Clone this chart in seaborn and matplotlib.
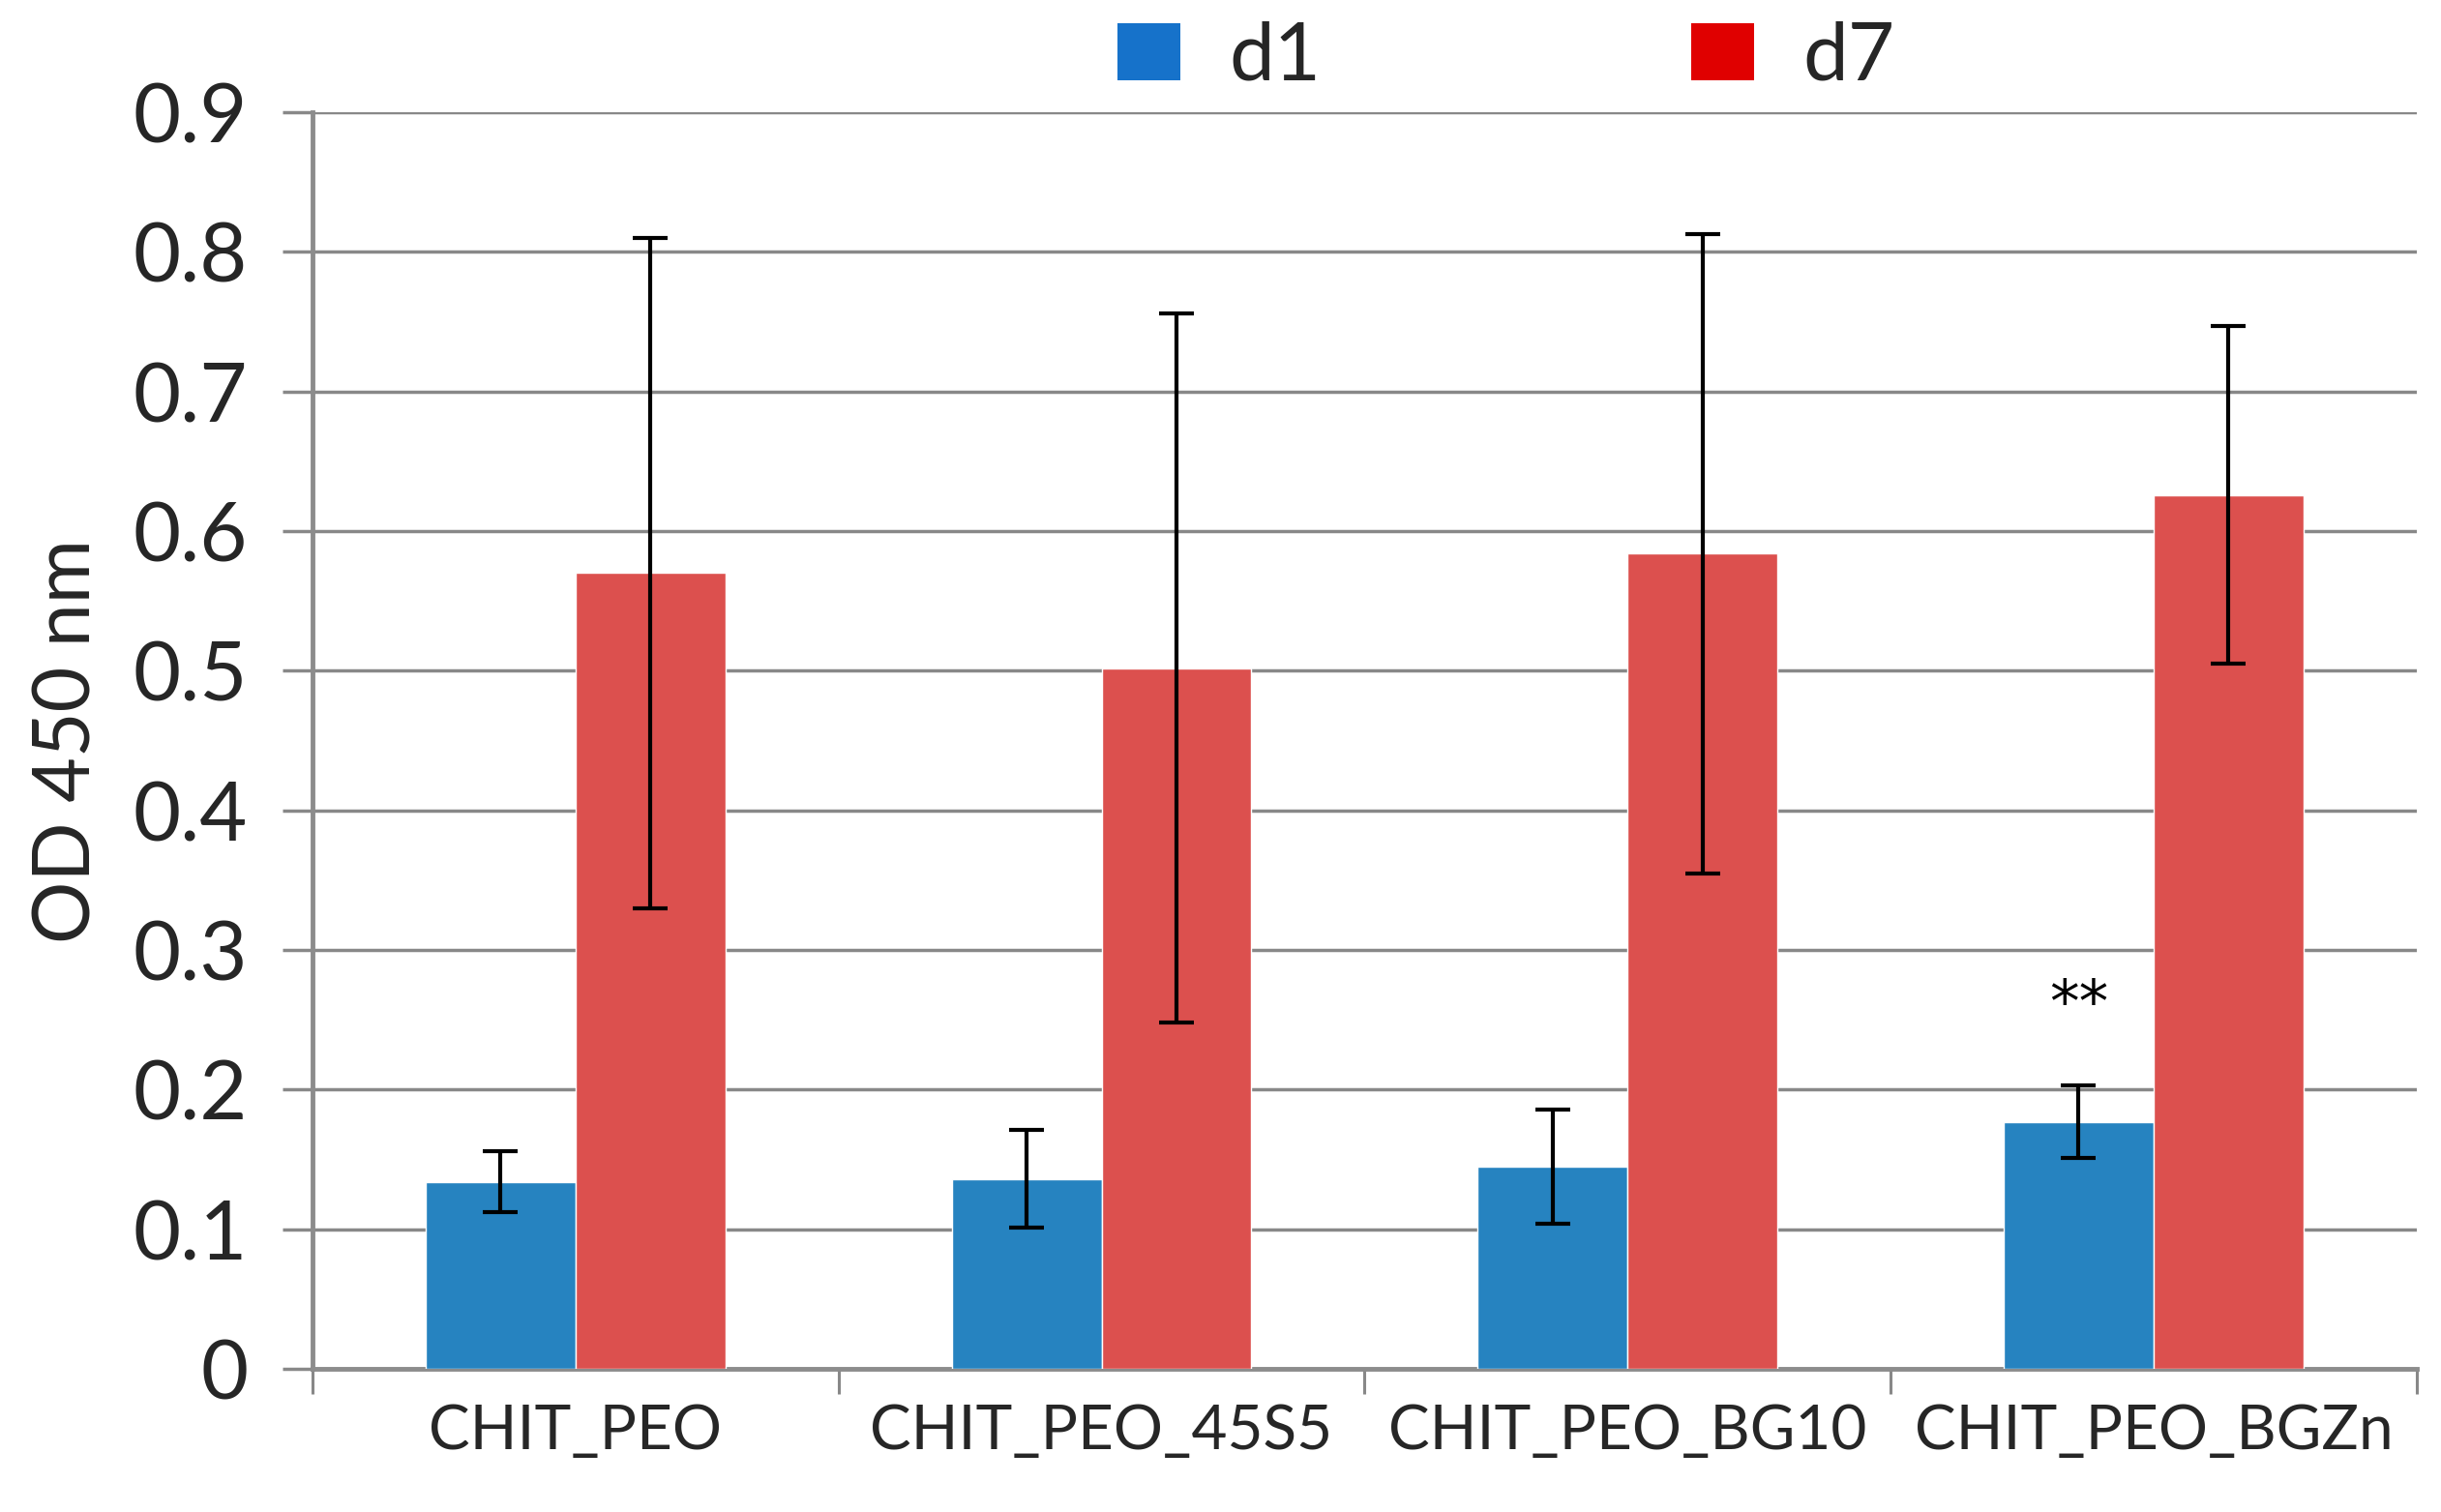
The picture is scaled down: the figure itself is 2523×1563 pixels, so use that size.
import pandas as pd
import numpy as np
import matplotlib
matplotlib.use("Agg")
import matplotlib.pyplot as plt
import seaborn as sns
from matplotlib.patches import Patch
from matplotlib.ticker import FixedLocator

# data
samples = ["CHIT_PEO", "CHIT_PEO_45S5", "CHIT_PEO_BG10", "CHIT_PEO_BGZn"]
d1_mean = [0.134, 0.136, 0.145, 0.177]
d1_err = [0.022, 0.035, 0.041, 0.026]
d7_mean = [0.570, 0.502, 0.584, 0.626]
d7_err = [0.240, 0.254, 0.229, 0.121]
days = ["d1", "d7"]
yticks = [0, 0.1, 0.2, 0.3, 0.4, 0.5, 0.6, 0.7, 0.8, 0.9]
ytick_labels = ["0", "0.1", "0.2", "0.3", "0.4", "0.5", "0.6", "0.7", "0.8", "0.9"]

df = pd.DataFrame({
    "sample": samples * 2,
    "day": ["d1"] * 4 + ["d7"] * 4,
    "od": d1_mean + d7_mean,
})
errs = {"d1": d1_err, "d7": d7_err}

sns.set_style("white")
plt.rcParams["font.family"] = ["Lato", "DejaVu Sans"]

fig = plt.figure(figsize=(25.23, 15.63), dpi=100)
ax = fig.add_axes([0.128, 0.0947, 0.862, 0.831])

bar_cols = {"d1": "#2683C0", "d7": "#DC504E"}
sns.barplot(data=df, x="sample", y="od", hue="day", hue_order=days,
            palette=bar_cols, saturation=1, width=0.57, gap=0,
            errorbar=None, ax=ax, zorder=3)

# error bars at the bar centres
for cont, day in zip(ax.containers, days):
    xs = [p.get_x() + p.get_width() / 2 for p in cont.patches]
    hs = [p.get_height() for p in cont.patches]
    ax.errorbar(xs, hs, yerr=errs[day], fmt="none", ecolor="black",
                elinewidth=3, capsize=13, capthick=3, zorder=4)

# significance mark over BGZn d1
ax.text(3 - 0.1425, 0.26, "**", ha="center", va="center", fontsize=44,
        family="DejaVu Sans", color="black", zorder=5)

ax.set_ylim(0, 0.9)
ax.set_xlim(-0.5, 3.5)
ax.yaxis.set_major_locator(FixedLocator(yticks))
ax.set_yticklabels(ytick_labels)
ax.grid(axis="y", color="#888888", linewidth=2.5, zorder=0)
ax.set_axisbelow(True)

ax.xaxis.set_minor_locator(FixedLocator([-0.5, 0.5, 1.5, 2.5, 3.5]))
ax.tick_params(axis="x", which="major", length=0, pad=26, labelsize=46)
ax.tick_params(axis="x", which="minor", length=19, width=2.2, color="#888888", direction="out")
ax.tick_params(axis="y", which="major", length=22, width=2.5, color="#888888",
               direction="out", pad=26, labelsize=61)
ax.xaxis.set_tick_params(which="minor", bottom=True)
ax.yaxis.set_tick_params(left=True)

for s in ["top", "right"]:
    ax.spines[s].set_visible(False)
ax.spines["left"].set_color("#8C8C8C")
ax.spines["left"].set_linewidth(3.5)
ax.spines["bottom"].set_color("#8C8C8C")
ax.spines["bottom"].set_linewidth(3.5)

ax.set_xlabel("")
ax.set_ylabel("OD 450 nm", fontsize=58, labelpad=22)

ax.get_legend().remove()
handles = [Patch(facecolor="#1672CA", edgecolor="none", label="d1"),
           Patch(facecolor="#E00000", edgecolor="none", label="d7")]
fig.legend(handles=handles, loc="center", bbox_to_anchor=(0.617, 0.962),
           ncol=2, frameon=False, fontsize=60, handlelength=0.78,
           handleheight=0.72, handletextpad=0.6, columnspacing=4.6)

fig.savefig("out.png", dpi=100)
